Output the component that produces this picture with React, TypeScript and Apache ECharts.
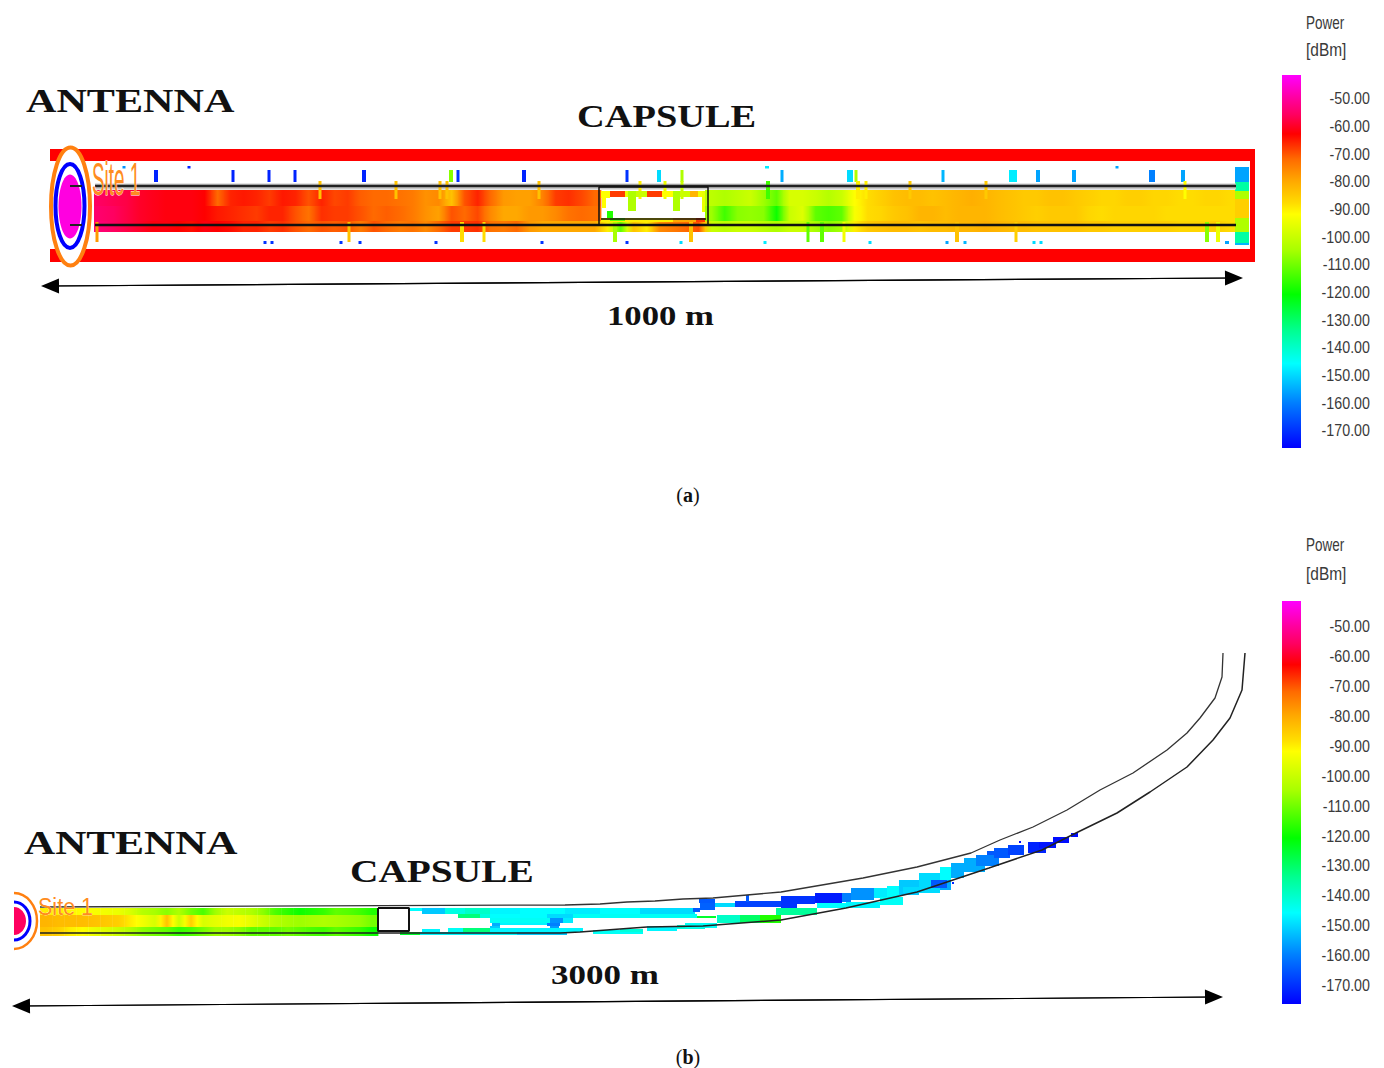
import React, { useEffect, useRef } from "react";
import * as echarts from "echarts";

// colour scale of the legend
const powerStops: [number, string][] = [
  [-41.7, "#ff00ff"], [-50, "#ff00a0"], [-56, "#ff0060"], [-63, "#ff0000"], [-72, "#ff6a00"],
  [-80, "#ffa800"], [-88, "#ffdc00"], [-92, "#ffff00"], [-105, "#a8ff00"], [-121, "#00ff00"],
  [-134, "#00ff90"], [-146, "#00ffff"], [-160, "#0080ff"], [-176.5, "#0000ff"],
];
const legendTicks = [-50, -60, -70, -80, -90, -100, -110, -120, -130, -140, -150, -160, -170];

// panel (a): heat columns
const columnsAStart = 94;
const columnsAStep = 13;
const n = null;
const tunnelATop = [
  -56,-57,-58,-60,-61,-62,-62,-62,-63,-72,-66,-65,-66,-68,-65,-66,-70,-66,-69,-68,-71,-72,-72,-73,-74,-77,-76,-84,-70,-66,-72,-78,-79,-79,-75,-68,-67,-69,-72,
  n,n,n,n,n,n,n,n,
  -102,-104,-102,-100,-106,-112,-98,-98,-100,-103,-100,-92,-88,-86,-84,-83,-83,-84,-83,-82,-81,-82,-83,-84,-85,-85,-84,-84,-85,-86,-87,-87,-86,-86,-87,-87,-88,-88,-87,-87,-88,
];
const tunnelAMid = [
  -55,-56,-58,-60,-61,-62,-62,-62,-63,-65,-66,-67,-68,-66,-66,-70,-73,-67,-68,-68,-70,-72,-71,-72,-74,-77,-79,-70,-72,-69,-76,-80,-80,-78,-78,-76,-73,-72,-73,
  n,n,n,n,n,n,n,n,
  -106,-115,-108,-107,-108,-120,-100,-97,-112,-114,-112,-93,-88,-87,-85,-84,-82,-82,-83,-82,-82,-82,-83,-84,-85,-86,-85,-85,-85,-87,-88,-87,-87,-87,-87,-88,-88,-88,-88,-88,-88,
];
const tunnelABottom = [
  -54,-56,-58,-60,-62,-62,-63,-64,-62,-63,-64,-66,-66,-68,-67,-70,-72,-70,-71,-70,-74,-70,-72,-74,-73,-76,-72,-68,-68,-67,-73,-74,-72,-78,-80,-80,-80,-80,-80,
  -90,-112,-84,-90,-76,-74,-72,-70,
  -100,-102,-100,-100,-102,-104,-100,-100,-105,-108,-105,-90,-85,-84,-83,-83,-84,-83,-83,-82,-82,-81,-82,-83,-83,-84,-84,-84,-84,-85,-85,-86,-86,-86,-86,-86,-87,-87,-87,-86,-88,
];
type Run = [number, number, number, number, number, number?, number?];
const frameA: Run[] = [
  [50, 1255, 149, 161, -63], [50, 1255, 249, 262, -63], [1250, 1255, 149, 262, -63],
];
const endBlockA: Run[] = [
  [1235, 1249, 167, 182, -156], [1235, 1249, 182, 191, -136], [1235, 1249, 191, 199, -104],
  [1235, 1249, 199, 218, -86], [1235, 1249, 218, 232, -104], [1235, 1249, 232, 243, -136], [1235, 1249, 243, 245, -154],
];
const capsuleCellsA: Run[] = [
  [601, 610, 191, 198, -92], [602, 606, 198, 208, -92], [610, 625, 191, 197, -68], [625, 628, 191, 197, -95],
  [628, 636, 191, 211, -104], [636, 647, 191, 197, -100], [647, 662, 191, 197, -68], [662, 673, 191, 197, -92],
  [673, 680, 191, 211, -104], [680, 690, 191, 197, -100], [690, 698, 191, 197, -82], [698, 702, 191, 197, -94],
  [702, 705, 191, 212, -95], [607, 613, 211, 218, -118], [601, 705, 218, 222, -90], [610, 625, 218, 221, -112],
  [673, 696, 218, 222, -80], [696, 705, 218, 222, -68],
];
// tick-like cells beside the tunnel: [x, width, power]
const upperTicksA: [number, number, number][] = [
  [156,4,-172],[233,3,-172],[269,3,-172],[295,3,-172],[364,4,-172],[451,4,-108],[458,3,-170],[524,4,-172],[627,3,-170],
  [659,4,-150],[682,3,-104],[782,3,-155],[850,6,-150],[856,3,-104],[943,3,-154],[1013,8,-148],[1038,4,-156],[1074,4,-156],[1152,6,-160],[1183,4,-156],
];
const upperDotsA: [number, number, number][] = [[124,3,-158],[189,3,-172],[767,4,-148],[1117,3,-156]];
const lowerDotsA: [number, number, number][] = [
  [265,3,-170],[272,3,-170],[341,3,-170],[360,3,-170],[436,3,-170],[542,3,-170],[627,3,-170],[681,3,-150],
  [765,3,-148],[870,3,-150],[947,3,-156],[965,3,-154],[1034,3,-150],[1041,3,-150],[1227,4,-156],
];
const wallSpikesA: [number, number, number][] = [
  [320,3,-84],[396,3,-84],[440,3,-84],[447,3,-84],[539,3,-84],[640,3,-90],[665,3,-95],[682,3,-100],
  [768,4,-115],[858,4,-90],[866,3,-90],[910,3,-85],[986,3,-85],[1185,3,-92],
];
const lowerSpikesA: [number, number, number][] = [
  [97,3,-78],[349,3,-84],[462,4,-88],[484,3,-88],[615,4,-105],[691,4,-84],[808,3,-112],[822,4,-112],[844,3,-94],
  [957,4,-84],[1016,3,-86],[1207,4,-108],[1218,4,-95],
];
const upperWallA: [number, number][] = [[95, 186], [1236, 186]];
const upperHaloA: [number, number][] = [[95, 186.5], [1236, 186.5]];
const lowerWallA: [number, number][] = [[95, 225], [1236, 225]];
const feedStubsA: [number, number][][] = [[[70, 186], [82, 186]], [[70, 225], [82, 225]]];
const arrowA: [number, number][] = [[50, 286], [1234, 278]];

// panel (b): straight section columns
const columnsBStart = 40;
const columnsBEnd = 378;
const tunnelBTop = [-90,-90,-91,-92,-93,-94,-95,-98,-103,-105,-108,-104,-110,-114,-106,-100,-102,-104,-108,-114,-117,-120,-118,-116,-112,-113,-115,-118];
const tunnelBMid = [-82,-83,-83,-83,-84,-85,-86,-90,-94,-98,-84,-100,-86,-98,-96,-94,-93,-96,-100,-103,-105,-106,-105,-104,-105,-106,-107,-110];
const tunnelBBottom = [-84,-86,-90,-92,-95,-97,-100,-104,-108,-110,-112,-116,-114,-110,-106,-106,-108,-112,-112,-112,-110,-112,-114,-115,-112,-114,-116,-120];
const sectionBRuns: Run[] = [
  [409,422,908,911,-146],[422,445,908,914,-152],[445,465,908,914,-143],[465,490,908,914,-140],[490,520,908,914,-147],[520,565,908,914,-146],[565,600,908,914,-148],[600,640,908,914,-146],[640,695,908,914,-150],
  [693,700,908,912,-165],[700,715,903,910,-164],[458,480,914,918,-132],[480,490,914,918,-142],[490,547,914,918,-146],[547,573,914,918,-150],[573,697,914,918,-145],[697,716,916,918,-125],
  [490,550,918,923,-145],[550,563,918,923,-158],[563,573,918,923,-148],[492,500,923,926,-155],[500,547,923,925,-147],[547,560,923,926,-160],[490,500,926,929,-152],[550,559,926,929,-157],
  [422,440,929,932,-147],[448,463,928,932,-145],[463,490,928,932,-132],[490,583,928,932,-147],[400,420,932,935,-125],[420,517,932,935,-147],[517,567,932,935,-152],
  [593,643,930,934,-145],[620,643,929,932,-142],[647,677,926,931,-147],[677,705,925,929,-142],[685,717,923,928,-145],
  [699,715,899,903,-165],[715,735,903,907,-150],[735,781,901,907,-168],[746,749,895,902,-165],[781,797,896,908,-170],[797,815,896,904,-170],
  [815,842,893,903,-173],[842,851,893,902,-160],[851,874,888,900,-158],[874,887,888,898,-148],[887,899,886,897,-146],[899,919,880,895,-152],[919,940,873,893,-150],
  [940,951,867,880,-146],[940,951,880,890,-155],[951,964,863,878,-155],[964,985,858,872,-155],[976,999,855,866,-160],[987,994,851,855,-165],[994,1010,848,858,-165],
  [1008,1024,845,855,-168],[1028,1046,842,853,-172],[1039,1056,842,848,-174],[1053,1069,837,843,-175],[1071,1078,833,837,-175],[1019,1021,841,843,-175],
  [817,846,903,908,-146],[776,817,908,915,-135],[717,740,915,923,-140],[740,760,915,923,-130],[760,781,915,923,-118],[846,880,902,908,-147],[880,903,897,905,-145],
  [903,931,887,893,-150],[931,947,880,888,-165],[952,954,882,884,-172],
];
const upperWallB: [number, number][] = [
  [40,907],[565,905],[600,904],[627,902],[655,901],[683,899],[713,898],[781,892],[863,878],[917,867],[971,853],[1000,840],[1033,827],[1067,810],[1100,790],
  [1133,773],[1167,750],[1187,733],[1200,718],[1215,698],[1222,677],[1223,653],
];
const lowerWallB: [number, number][] = [
  [40,933],[560,933],[580,932],[620,929],[647,927],[703,926],[781,920],[846,908],[917,892],[989,868],[1042,850],[1078,832],[1117,813],[1150,792],[1187,767],
  [1213,740],[1230,718],[1242,690],[1245,653],
];
const arrowB: [number, number][] = [[21, 1006], [1214, 997]];

// antenna rings: [cx, cy, rx, ry, colour, lineWidth]
const ringsA: [number, number, number, number, string, number][] = [
  [70.5, 206.5, 19.5, 59, "#ff8010", 4],
  [70, 206, 14.5, 42, "#0000ff", 4],
];
const coreA: [number, number, number, number, string][] = [[70, 206.5, 11.5, 32, "#ff00e0"]];
const ringsB: [number, number, number, number, string, number][] = [
  [14, 921, 23, 28, "#ff8010", 2.5],
  [14, 921, 16, 19, "#0000ff", 3],
];
const coreB: [number, number, number, number, string][] = [[14, 921, 12, 14, "#ff0060"]];

function colorOf(v: number): string {
  const hex = (s: string) => [1, 3, 5].map((i) => parseInt(s.slice(i, i + 2), 16));
  for (let i = 0; i < powerStops.length - 1; i++) {
    const [a, ca] = powerStops[i];
    const [b, cb] = powerStops[i + 1];
    if (v <= a && v >= b) {
      const t = (a - v) / (a - b);
      const A = hex(ca), B = hex(cb);
      return `rgb(${A.map((c, k) => Math.round(c + (B[k] - c) * t)).join(",")})`;
    }
  }
  return v > -42 ? "#ff00ff" : "#0000ff";
}

function cellRender(params: any, api: any) {
  const p0 = api.coord([api.value(0), api.value(2)]);
  const p1 = api.coord([api.value(1), api.value(3)]);
  const v = api.value(4), l = api.value(5), r = api.value(6);
  const soft = Number.isFinite(l) && Number.isFinite(r);
  return {
    type: "rect",
    shape: { x: p0[0], y: p0[1], width: p1[0] - p0[0] + (soft ? 0.4 : 0), height: p1[1] - p0[1] },
    style: {
      fill: soft
        ? new echarts.graphic.LinearGradient(0, 0, 1, 0, [
            { offset: 0, color: colorOf(l) }, { offset: 0.5, color: colorOf(v) }, { offset: 1, color: colorOf(r) },
          ])
        : colorOf(v),
    },
  };
}
const cells = (data: Run[], z: number) => ({
  type: "custom", renderItem: cellRender, data, z, clip: false, silent: true,
  encode: { x: [0, 1], y: [2, 3] },
});
// a tunnel row: each cell's edge colours meet those of its neighbours, as in the blurred original
const rows = (vals: (number | null)[], start: number, step: number, y0: number, y1: number): Run[] =>
  vals.flatMap((v, i) => {
    if (v === null) return [];
    const prev = vals[i - 1] ?? v;
    const next = vals[i + 1] ?? v;
    return [[start + i * step, start + (i + 1) * step, y0, y1, v, (v + prev) / 2, (v + next) / 2] as Run];
  });
const ticks = (list: [number, number, number][], y0: number, y1: number): Run[] =>
  list.map(([x, w, v]) => [x - w / 2, x + w / 2, y0, y1, v] as Run);

const ellipseSeries = (list: any[], z: number, filled: boolean) => ({
  type: "custom", z, clip: false, silent: true,
  data: list.map((r) => [r[0], r[1]]),
  renderItem: (params: any, api: any) => {
    const r = list[params.dataIndex];
    const c = api.coord([r[0], r[1]]);
    return {
      type: "ellipse",
      shape: { cx: c[0], cy: c[1], rx: r[2], ry: r[3] },
      style: filled ? { fill: r[4] } : { fill: "#fff", stroke: r[4], lineWidth: r[5] },
    };
  },
});
const wall = (data: [number, number][], width: number, color: string, z: number) => ({
  type: "line", data, symbol: "none", z, silent: true, clip: false,
  lineStyle: { color, width }, animation: false,
});
const arrow = (d: [number, number][]) => ({
  type: "line", data: d, symbol: "none", z: 6, silent: true, clip: false,
  lineStyle: { color: "#000", width: 1.2 },
  markLine: {
    silent: true, animation: false, symbol: ["triangle", "triangle"], symbolSize: [15, 18],
    label: { show: false }, lineStyle: { color: "#000", width: 1.2, type: "solid" },
    data: [[{ coord: d[0] }, { coord: d[1] }]],
  },
});

const MIN_P = -176.5, MAX_P = -41.7;
const SERIF = "'Liberation Serif', serif";
const SANS = "'Liberation Sans', sans-serif";
const legendBar = (axisIndex: number) => ({
  type: "custom", xAxisIndex: axisIndex, yAxisIndex: axisIndex, clip: false, silent: true,
  data: [[0, MAX_P, MIN_P]], encode: { x: 0, y: [1, 2] },
  renderItem: (params: any, api: any) => {
    const a = api.coord([0, MAX_P]);
    const b = api.coord([1, MIN_P]);
    return {
      type: "rect",
      shape: { x: a[0], y: a[1], width: b[0] - a[0], height: b[1] - a[1] },
      style: {
        fill: new echarts.graphic.LinearGradient(0, 0, 0, 1, powerStops.map(([v, color]) => ({
          offset: (MAX_P - v) / (MAX_P - MIN_P), color,
        }))),
      },
    };
  },
});
// tick labels, condensed like the original's narrow face
const legendLabels = (axisIndex: number) => ({
  type: "custom", xAxisIndex: axisIndex, yAxisIndex: axisIndex, clip: false, silent: true,
  data: legendTicks.map((t) => [1, t]), encode: { x: 0, y: 1 },
  renderItem: (params: any, api: any) => {
    const c = api.coord([api.value(0), api.value(1)]);
    return {
      type: "text", x: c[0] + 69, y: c[1] + 0.5, scaleX: 0.84,
      style: {
        text: api.value(1).toFixed(2), fill: "#3a3a3a", font: `17px ${SANS}`,
        textAlign: "right", textVerticalAlign: "middle",
      },
    };
  },
});

const heading = (text: string, x: number, y: number, size: number, sx: number, sy = 1) => ({
  type: "text", x, y, scaleX: sx, scaleY: sy, z: 100, silent: true,
  style: { text, fill: "#111", font: `bold ${size}px ${SERIF}`, textAlign: "left", textVerticalAlign: "middle" },
});
const sideLabel = (text: string, x: number, y: number, sx: number) => ({
  type: "text", x, y, scaleX: sx, z: 100, silent: true,
  style: { text, fill: "#3a3a3a", font: `18px ${SANS}`, textAlign: "left", textVerticalAlign: "middle" },
});
const caption = (letter: string, x: number, y: number) => ({
  type: "text", x, y, z: 100, silent: true,
  style: {
    text: `{r|(}{b|${letter}}{r|)}`, textAlign: "center", textVerticalAlign: "middle",
    rich: {
      r: { font: `20px ${SERIF}`, fill: "#111" },
      b: { font: `bold 20px ${SERIF}`, fill: "#111" },
    },
  },
});
const site = (x: number, y: number, size: number, sx: number, sy: number) => ({
  type: "text", x, y, scaleX: sx, scaleY: sy, z: 100, silent: true,
  style: {
    text: "Site 1", fill: "#ff8c20", stroke: "#ffffff", lineWidth: 0.4,
    font: `${size}px ${SANS}`, textAlign: "left", textVerticalAlign: "middle",
  },
});

function legendAxes(index: number) {
  return {
    type: "value", gridIndex: index, min: MIN_P, max: MAX_P, position: "right",
    axisLine: { show: false }, splitLine: { show: false },
    axisTick: { show: true, length: 10, customValues: legendTicks, lineStyle: { color: "#444", width: 1 } },
    axisLabel: { show: false },
  };
}

export default function App() {
  const ref = useRef<HTMLDivElement>(null);
  useEffect(() => {
    document.body.style.margin = "0";
    const chart = echarts.init(ref.current!, undefined, { renderer: "svg" });
    const stepB = (columnsBEnd - columnsBStart) / tunnelBTop.length;
    chart.setOption({
      animation: false,
      backgroundColor: "#fff",
      grid: [
        { left: 0, top: 0, width: 1384, height: 1068, outerBoundsMode: "none" },
        { left: 1282, top: 75, width: 19, height: 373, outerBoundsMode: "none" },
        { left: 1282, top: 601, width: 19, height: 403, outerBoundsMode: "none" },
      ],
      xAxis: [
        { type: "value", min: 0, max: 1384, show: false, gridIndex: 0 },
        { type: "value", min: 0, max: 1, show: false, gridIndex: 1 },
        { type: "value", min: 0, max: 1, show: false, gridIndex: 2 },
      ],
      yAxis: [
        { type: "value", min: 0, max: 1068, inverse: true, show: false, gridIndex: 0 },
        legendAxes(1),
        legendAxes(2),
      ],
      series: [
        cells(rows(tunnelATop, columnsAStart, columnsAStep, 190, 206), 2),
        cells(rows(tunnelAMid, columnsAStart, columnsAStep, 206, 221), 2),
        cells(rows(tunnelABottom, columnsAStart, columnsAStep, 221, 232), 2),
        cells(frameA, 2),
        cells(endBlockA, 2),
        cells(ticks(upperTicksA, 170, 182), 2),
        cells(ticks(upperDotsA, 166, 168.5), 2),
        cells(ticks(lowerDotsA, 241, 244), 2),
        wall(upperHaloA, 6, "#c8c8c8", 2),
        cells(ticks(wallSpikesA, 181, 199), 4),
        cells(ticks(lowerSpikesA, 222, 242), 4),
        cells(capsuleCellsA, 4),
        wall(upperWallA, 2.5, "#222", 5),
        wall(lowerWallA, 2.5, "#111", 5),
        // capsule box of (a)
        wall([[599, 187], [599, 225], [708, 225], [708, 187], [599, 187]], 1.5, "#111", 6),
        wall([[601, 219], [706, 219]], 1.5, "#111", 6),
        ellipseSeries(ringsA, 7, false),
        ellipseSeries(coreA, 8, true),
        wall(feedStubsA[0], 2, "#222", 9),
        wall(feedStubsA[1], 2, "#222", 9),
        arrow(arrowA),

        cells(rows(tunnelBTop, columnsBStart, stepB, 908, 915), 2),
        cells(rows(tunnelBMid, columnsBStart, stepB, 915, 927), 2),
        cells(rows(tunnelBBottom, columnsBStart, stepB, 927, 936), 2),
        cells(sectionBRuns, 2),
        wall(upperWallB, 1.3, "#333", 5),
        wall(lowerWallB, 1.5, "#222", 5),
        wall([[378, 908], [409, 908], [409, 931], [378, 931], [378, 908]], 2, "#111", 6),
        ellipseSeries(ringsB, 7, false),
        ellipseSeries(coreB, 8, true),
        arrow(arrowB),

        legendBar(1),
        legendBar(2),
        legendLabels(1),
        legendLabels(2),
      ],
      graphic: [
        { type: "rect", z: 50, silent: true, shape: { x: 0, y: 880, width: 14, height: 75 }, style: { fill: "#fff" } },
        { type: "rect", z: 50, silent: true, shape: { x: 380, y: 909, width: 28, height: 21 }, style: { fill: "#fff" } },
        heading("ANTENNA", 26, 100.5, 34, 1.24),
        heading("CAPSULE", 577, 117, 32, 1.2),
        heading("1000 m", 607, 315.5, 28, 1.24),
        heading("ANTENNA", 24, 842.5, 34, 1.27),
        heading("CAPSULE", 350, 871, 32, 1.23),
        heading("3000 m", 551, 975, 28, 1.25),
        caption("a", 688, 495),
        caption("b", 688, 1056.5),
        sideLabel("Power", 1306, 23, 0.75),
        sideLabel("[dBm]", 1306, 50, 0.86),
        sideLabel("Power", 1306, 545, 0.75),
        sideLabel("[dBm]", 1306, 574, 0.86),
        site(92, 179, 18, 1.05, 2.6),
        site(38, 907, 22, 0.98, 1.1),
      ],
    });
    return () => chart.dispose();
  }, []);
  return <div ref={ref} style={{ position: "absolute", left: 0, top: 0, width: 1384, height: 1068 }} />;
}
